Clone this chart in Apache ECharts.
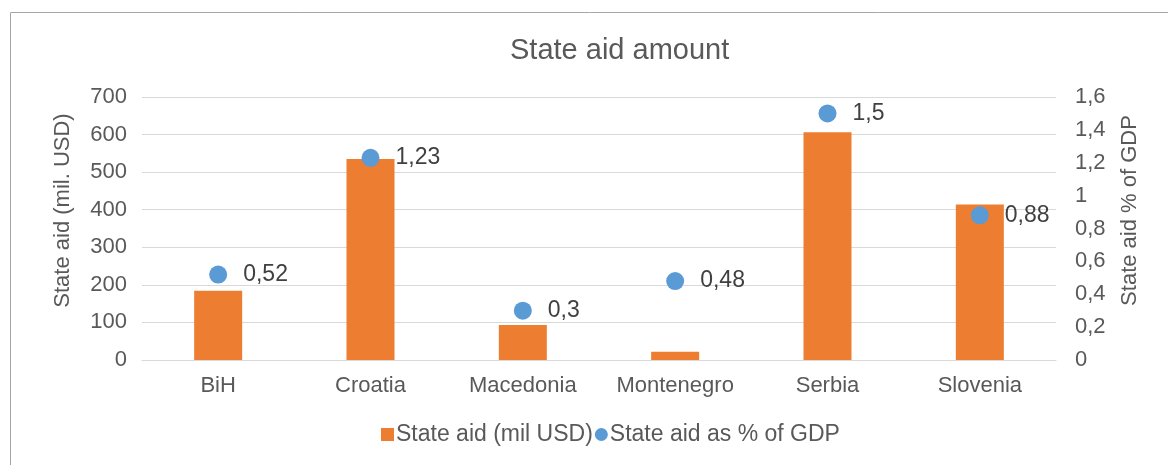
<!DOCTYPE html>
<html><head><meta charset="utf-8">
<script src="https://cdn.jsdelivr.net/npm/echarts@6/dist/echarts.min.js"></script>
<style>html,body{margin:0;padding:0;background:#fff}#c{width:1168px;height:465px}</style>
</head><body><div id="c"></div>
<script>
const categories = ['BiH','Croatia','Macedonia','Montenegro','Serbia','Slovenia'];
const stateAidUSD = [184, 535, 93, 22, 606, 414];
const stateAidPctGDP = [0.52, 1.23, 0.3, 0.48, 1.5, 0.88];
const leftTicks = [0,100,200,300,400,500,600,700];
const rightTicks = [0,0.2,0.4,0.6,0.8,1,1.2,1.4,1.6];

const fmt = v => String(Math.round(v*100)/100).replace('.', ',');
const chart = echarts.init(document.getElementById('c'));
const txt = '#595959';
const font = 'Liberation Sans, Arial, sans-serif';
chart.setOption({
  animation:false,
  textStyle:{fontFamily:font},
  title:{text:'State aid amount',left:505,top:31,textStyle:{color:txt,fontSize:29,fontWeight:'normal',fontFamily:font}},
  graphic:[
    {type:'line',shape:{x1:10.5,y1:12.5,x2:1168,y2:12.5},style:{stroke:'#a6a6a6',lineWidth:1}},
    {type:'line',shape:{x1:10.5,y1:12.5,x2:10.5,y2:465},style:{stroke:'#a6a6a6',lineWidth:1}}
  ],
  grid:{left:142,right:112,top:97,bottom:105},
  legend:{bottom:14,left:376,itemGap:2,itemWidth:13,itemHeight:13,
    textStyle:{color:txt,fontSize:23,fontFamily:font,padding:[0,0,0,-3]},
    data:[{name:'State aid (mil USD)',icon:'rect'},{name:'State aid as % of GDP',icon:'circle'}]},
  xAxis:{type:'category',data:categories,axisTick:{show:false},
    axisLine:{lineStyle:{color:'#d9d9d9'}},
    axisLabel:{color:txt,fontSize:22,margin:15,interval:0,fontFamily:font}},
  yAxis:[
    {type:'value',min:0,max:700,interval:100,name:'State aid (mil. USD)',nameLocation:'middle',nameGap:68,
     nameTextStyle:{color:txt,fontSize:22,fontFamily:font,padding:[0,0,0,36]},
     axisLabel:{color:txt,fontSize:22,margin:15,fontFamily:font},
     splitLine:{lineStyle:{color:'#d9d9d9'}}},
    {type:'value',min:0,max:1.6,interval:0.2,name:'State aid % of GDP',nameLocation:'middle',nameGap:63,nameRotate:90,
     nameTextStyle:{color:txt,fontSize:22,fontFamily:font,padding:[0,0,0,36]},
     axisLabel:{color:txt,fontSize:22,margin:19,fontFamily:font,formatter:v=>fmt(v)},
     splitLine:{show:false}}
  ],
  series:[
    {name:'State aid (mil USD)',type:'bar',data:stateAidUSD,barWidth:48,itemStyle:{color:'#ed7d31'}},
    {name:'State aid as % of GDP',type:'scatter',yAxisIndex:1,data:stateAidPctGDP,symbolSize:18,
     itemStyle:{color:'#5b9bd5',opacity:1},
     label:{show:true,position:'right',distance:16,color:'#404040',fontSize:23,fontFamily:font,formatter:p=>fmt(p.value)}}
  ]
});
</script></body></html>
